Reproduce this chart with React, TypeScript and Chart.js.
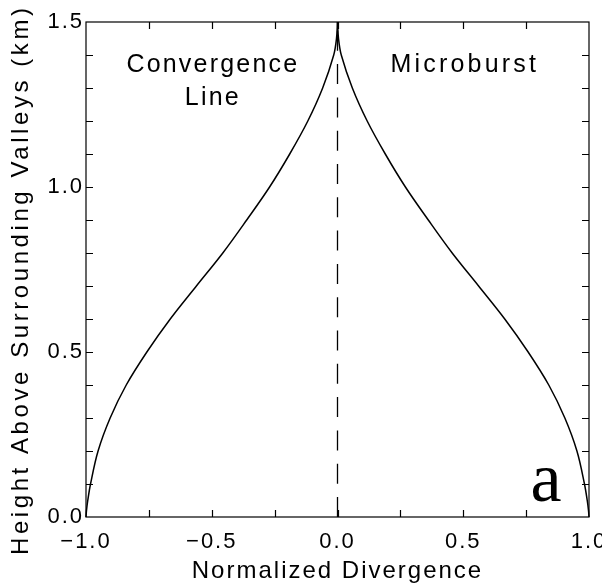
import React, { useEffect, useRef } from "react";
import { Chart, registerables } from "chart.js";

Chart.register(...registerables);

// ---- data ----
const heights = [0, 0.02, 0.05, 0.1, 0.2, 0.3, 0.4, 0.5, 0.6, 0.7, 0.8, 0.9, 1.0, 1.1, 1.2, 1.3, 1.4, 1.45, 1.5];
const convergenceLine = [-1.0, -0.998, -0.993, -0.982, -0.952, -0.904, -0.84, -0.758, -0.665, -0.561, -0.456, -0.361, -0.27, -0.19, -0.118, -0.059, -0.015, -0.004, 0];
const microburst = [1.0, 0.998, 0.993, 0.982, 0.952, 0.904, 0.84, 0.758, 0.665, 0.561, 0.456, 0.361, 0.27, 0.19, 0.118, 0.059, 0.015, 0.004, 0];
const dividerX = [0, 0];
const dividerY = [0, 1.5];

const xRange = [-1, 1];
const yRange = [0, 1.5];
const xMajorStep = 0.5;
const yMajorStep = 0.5;
const xMinorStep = 0.25;
const yMinorStep = 0.1;

const xAxisTitle = "Normalized Divergence";
const yAxisTitle = "Height Above Surrounding Valleys (km)";
const leftLabel = ["Convergence", "Line"];
const leftLabelPos = { x: -0.5, y: [1.348, 1.248] };
const rightLabel = ["Microburst"];
const rightLabelPos = { x: 0.5, y: [1.348] };
const panelLetter = "a";

const SANS = "'Liberation Sans', Arial, sans-serif";

function fmt(v: number) {
  const s = Math.abs(v).toFixed(1);
  return v < -1e-9 ? "\u2212" + s : s;
}

function drawSpaced(ctx: CanvasRenderingContext2D, text: string, x: number, y: number, spacing: number) {
  (ctx as any).letterSpacing = spacing + "px";
  ctx.fillText(text, x + spacing / 2, y);
}

const framePlugin = {
  id: "frame",
  beforeDraw(chart: any) {
    (chart.ctx as any).letterSpacing = "2px";
  },
  afterDatasetsDraw(chart: any) {
    const { ctx, chartArea: a, scales } = chart;
    const xs = scales.x;
    const ys = scales.y;
    ctx.save();
    ctx.strokeStyle = "#000";
    ctx.lineWidth = 1.2;
    ctx.strokeRect(a.left, a.top, a.right - a.left, a.bottom - a.top);
    const tl = 7;
    ctx.beginPath();
    const nx = Math.round((xRange[1] - xRange[0]) / xMinorStep);
    for (let i = 1; i < nx; i++) {
      const px = Math.round(xs.getPixelForValue(xRange[0] + i * xMinorStep)) + 0.5;
      ctx.moveTo(px, a.bottom);
      ctx.lineTo(px, a.bottom - tl);
      ctx.moveTo(px, a.top);
      ctx.lineTo(px, a.top + tl);
    }
    const ny = Math.round((yRange[1] - yRange[0]) / yMinorStep);
    for (let i = 1; i < ny; i++) {
      const py = Math.round(ys.getPixelForValue(yRange[0] + i * yMinorStep)) + 0.5;
      ctx.moveTo(a.left, py);
      ctx.lineTo(a.left + tl, py);
      ctx.moveTo(a.right, py);
      ctx.lineTo(a.right - tl, py);
    }
    ctx.stroke();

    // annotations
    ctx.fillStyle = "#000";
    ctx.textAlign = "center";
    ctx.textBaseline = "alphabetic";
    ctx.font = `25px ${SANS}`;
    leftLabel.forEach((t, i) => {
      drawSpaced(ctx, t, xs.getPixelForValue(leftLabelPos.x), ys.getPixelForValue(leftLabelPos.y[i]), 2.2);
    });
    rightLabel.forEach((t, i) => {
      drawSpaced(ctx, t, xs.getPixelForValue(rightLabelPos.x), ys.getPixelForValue(rightLabelPos.y[i]), 3.2);
    });
    ctx.font = `70px 'Liberation Serif', 'DejaVu Serif', serif`;
    drawSpaced(ctx, panelLetter, a.right - 43, a.bottom - 16, 0);
    ctx.restore();
  },
  afterDraw(chart: any) {
    const { ctx, chartArea: a } = chart;
    ctx.save();
    ctx.fillStyle = "#000";
    ctx.font = `24px ${SANS}`;
    (ctx as any).letterSpacing = "0px";
    const w = ctx.measureText(yAxisTitle).width;
    const target = 547;
    const sp = (target - w) / (yAxisTitle.length - 1);
    ctx.translate(21, (a.top + a.bottom) / 2 + 12);
    ctx.rotate(-Math.PI / 2);
    ctx.textAlign = "center";
    ctx.textBaseline = "middle";
    drawSpaced(ctx, yAxisTitle, 0, 0, sp);
    ctx.restore();
  },
};

export default function App() {
  const ref = useRef<HTMLCanvasElement | null>(null);
  useEffect(() => {
    document.body.style.margin = "0";
    const canvas = ref.current!;
    const chart = new Chart(canvas, {
      type: "scatter",
      data: {
        datasets: [
          {
            label: "Convergence Line",
            data: heights.map((h, i) => ({ x: convergenceLine[i], y: h })),
            showLine: true,
            borderColor: "#000",
            borderWidth: 1.5,
            pointRadius: 0,
            tension: 0.35,
            clip: 4,
          },
          {
            label: "Microburst",
            data: heights.map((h, i) => ({ x: microburst[i], y: h })),
            showLine: true,
            borderColor: "#000",
            borderWidth: 1.5,
            pointRadius: 0,
            tension: 0.35,
            clip: 4,
          },
          {
            label: "divider",
            data: dividerY.map((h, i) => ({ x: dividerX[i], y: h })),
            showLine: true,
            borderColor: "#000",
            borderWidth: 1.3,
            borderDash: [20, 13.3],
            pointRadius: 0,
          },
        ],
      },
      options: {
        responsive: false,
        animation: false,
        layout: { padding: { top: 22, right: 13, left: 0, bottom: 0 } },
        plugins: { legend: { display: false }, tooltip: { enabled: false } },
        scales: {
          x: {
            type: "linear",
            min: xRange[0],
            max: xRange[1],
            grid: { display: false, drawTicks: false },
            border: { display: false },
            ticks: {
              stepSize: xMajorStep,
              color: "#000",
              font: { family: SANS, size: 22 },
              padding: 12,
              maxRotation: 0,
              autoSkip: false,
              callback: (v: any) => fmt(Number(v)),
            },
            title: {
              display: true,
              text: xAxisTitle,
              color: "#000",
              font: { family: SANS, size: 24 },
              padding: { top: 0, bottom: 0 },
            },
            afterFit: (s: any) => {
              s.height = 69;
              s.paddingLeft = 0;
              s.paddingRight = 0;
            },
          },
          y: {
            type: "linear",
            min: yRange[0],
            max: yRange[1],
            grid: { display: false, drawTicks: false },
            border: { display: false },
            ticks: {
              stepSize: yMajorStep,
              color: "#000",
              font: { family: SANS, size: 22 },
              padding: 2,
              callback: (v: any) => fmt(Number(v)),
            },
            afterFit: (s: any) => {
              s.width = 86;
              s.paddingTop = 0;
              s.paddingBottom = 0;
            },
          },
        },
      },
      plugins: [framePlugin],
    } as any);
    return () => chart.destroy();
  }, []);
  return (
    <div style={{ width: 602, height: 586 }}>
      <canvas ref={ref} width={602} height={586} />
    </div>
  );
}
